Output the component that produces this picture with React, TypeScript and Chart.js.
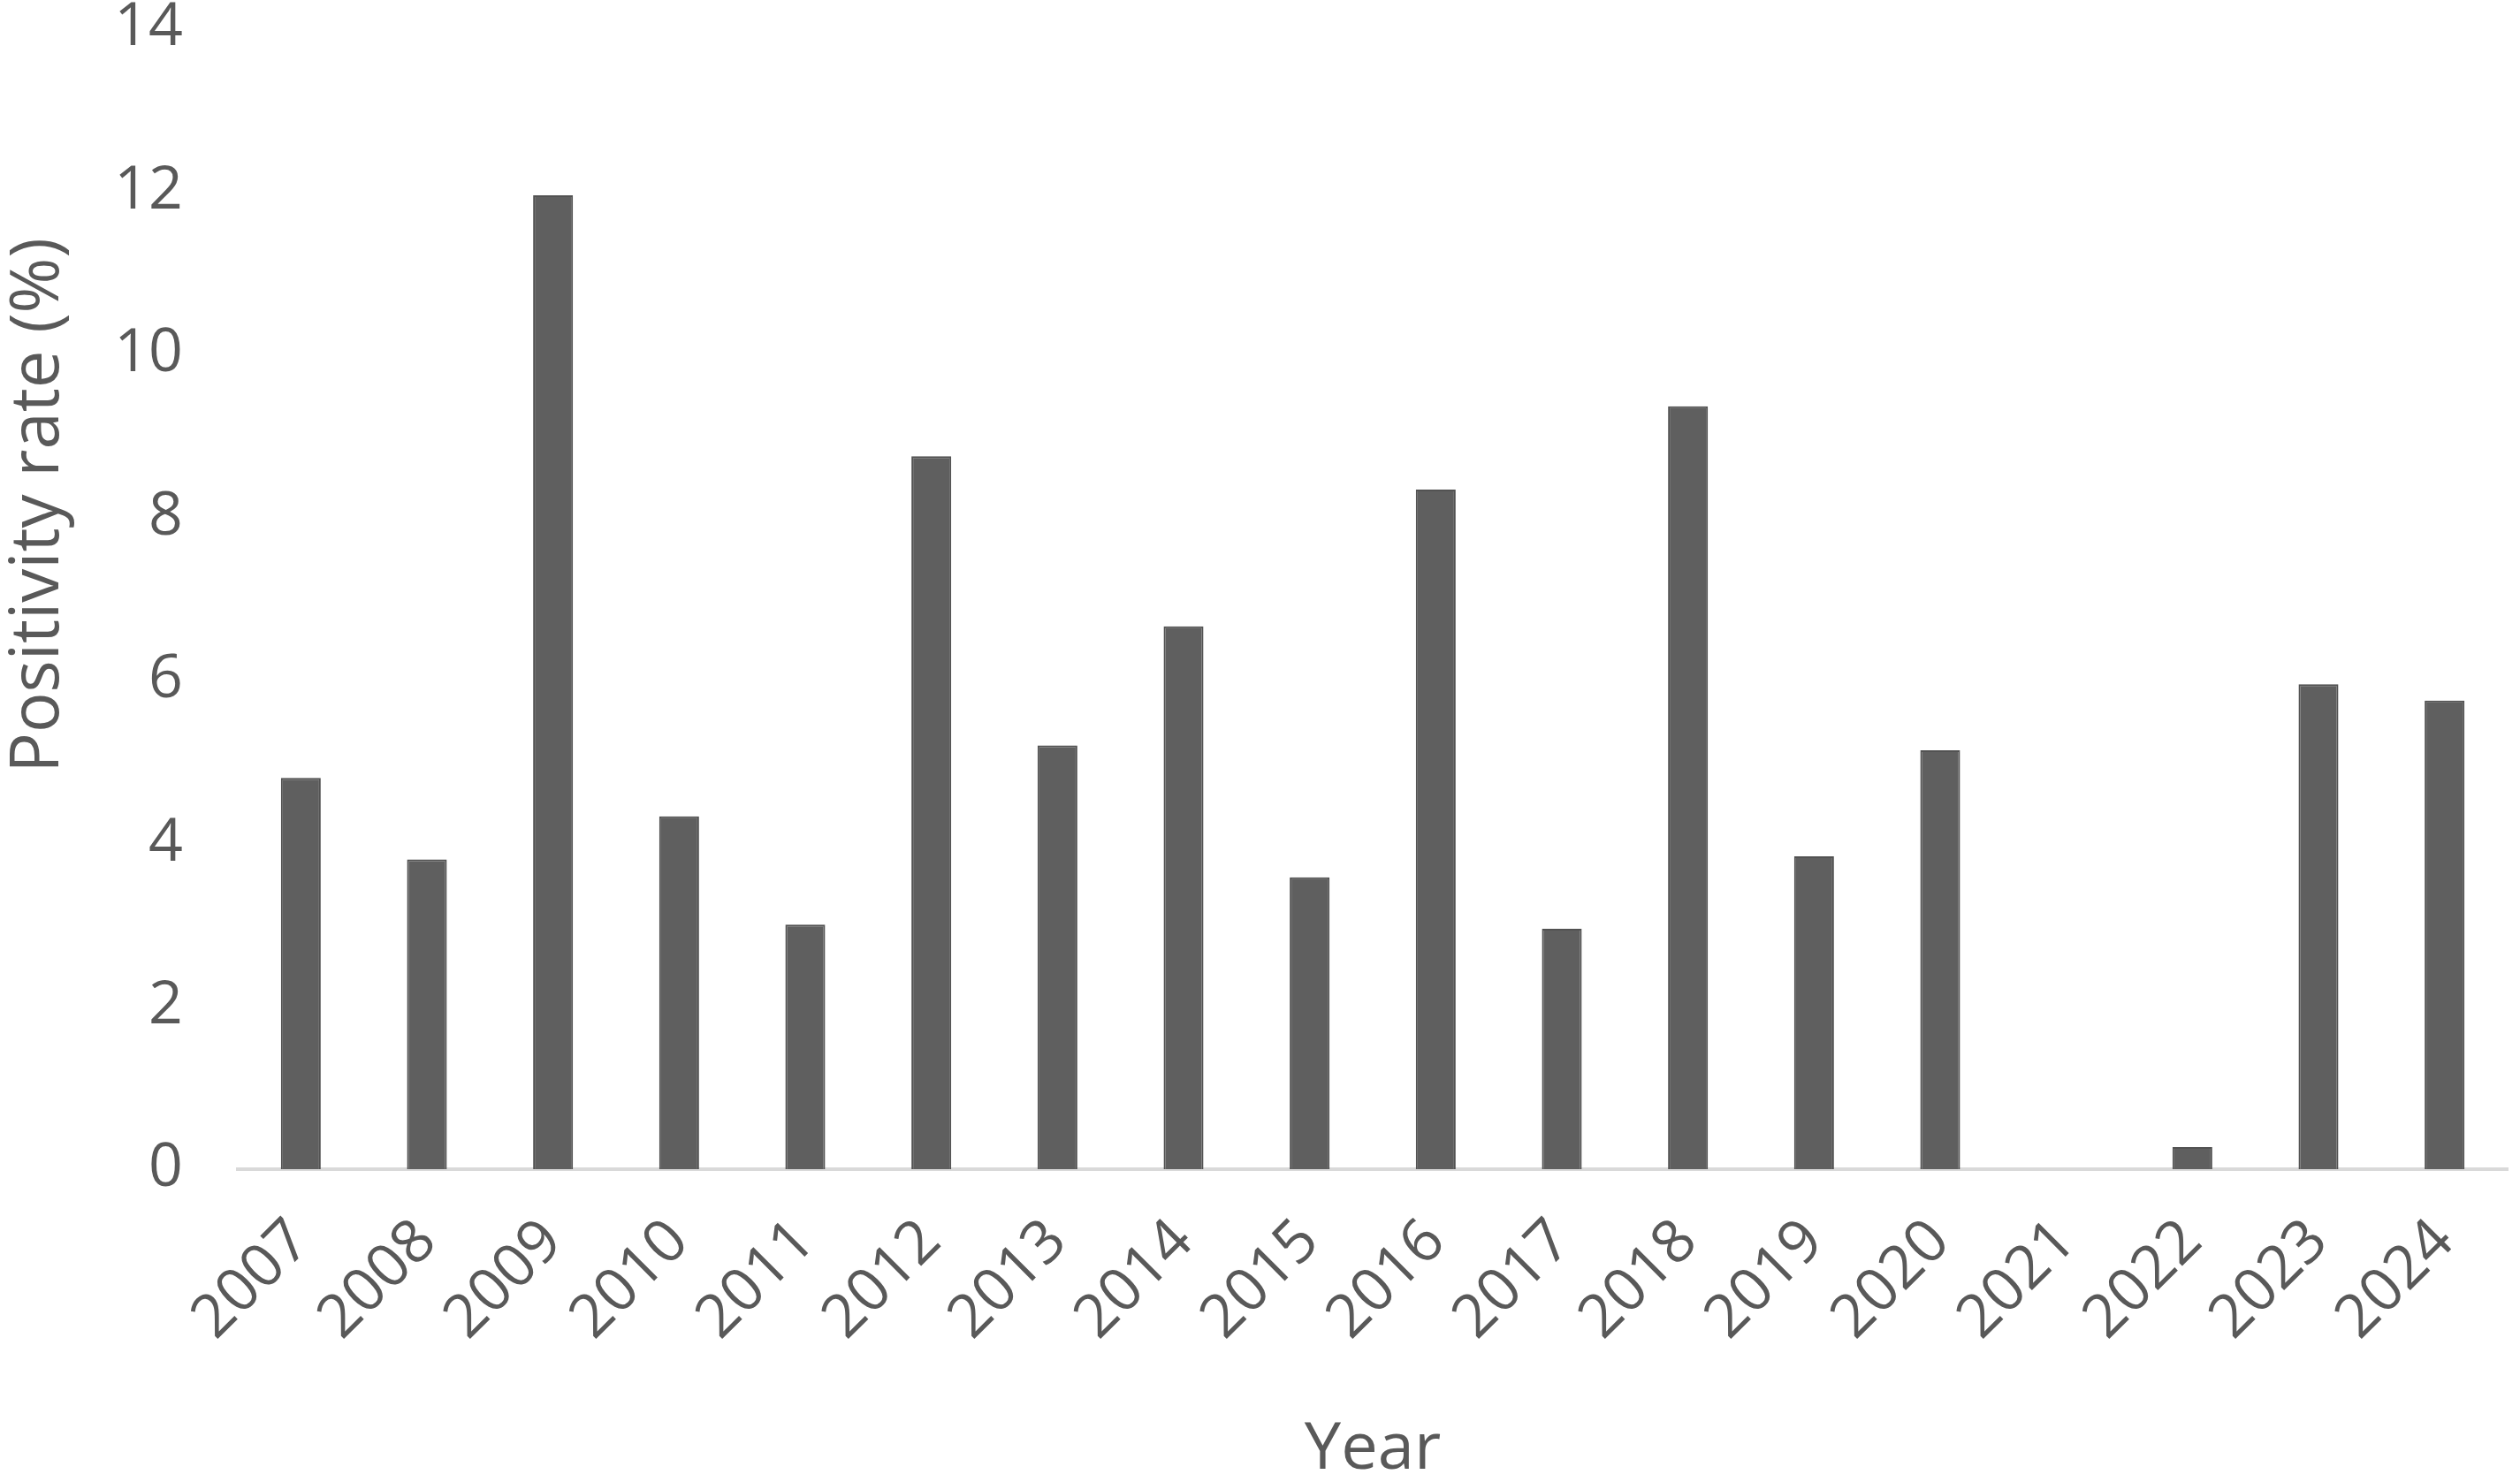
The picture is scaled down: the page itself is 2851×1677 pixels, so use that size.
import React, { useEffect, useRef } from "react";
import { Chart, registerables } from "chart.js";

Chart.register(...registerables);

const years = ["2007","2008","2009","2010","2011","2012","2013","2014","2015","2016","2017","2018","2019","2020","2021","2022","2023","2024"];
const positivityRate = [4.8, 3.8, 11.95, 4.33, 3.0, 8.75, 5.2, 6.66, 3.58, 8.34, 2.95, 9.36, 3.84, 5.14, 0, 0.27, 5.95, 5.75];
const yTicks = [0, 2, 4, 6, 8, 10, 12, 14];
const yTitle = "Positivity rate (%)";
const xTitle = "Year";

const W = 2851;
const H = 1677;
const TEXT = "#595959";
const FONT = "'Open Sans', 'Noto Sans', sans-serif";

const yTitlePlugin = {
  id: "yTitlePlugin",
  afterDraw(chart: any) {
    const ctx = chart.ctx;
    ctx.save();
    ctx.translate(44, 572);
    ctx.rotate(-Math.PI / 2);
    ctx.fillStyle = TEXT;
    ctx.font = `76px ${FONT}`;
    ctx.textAlign = "center";
    ctx.textBaseline = "middle";
    ctx.fillText(yTitle, 0, 0);
    ctx.restore();
  },
};

export default function App() {
  const ref = useRef<HTMLCanvasElement | null>(null);
  useEffect(() => {
    if (!ref.current) return;
    const chart = new Chart(ref.current, {
      type: "bar",
      data: {
        labels: years,
        datasets: [
          {
            data: positivityRate,
            backgroundColor: "#5f5f5f",
            borderColor: "#525252",
            borderWidth: 2,
            barPercentage: 0.316,
            categoryPercentage: 1,
          },
        ],
      },
      plugins: [yTitlePlugin],
      options: {
        animation: false,
        responsive: false,
        devicePixelRatio: 1,
        layout: { padding: { top: 32, right: 14, left: 0, bottom: 0 } },
        plugins: { legend: { display: false }, tooltip: { enabled: false } },
        scales: {
          x: {
            grid: { display: false, drawTicks: false },
            border: { display: true, color: "#d9d9d9", width: 4 },
            ticks: {
              color: TEXT,
              font: { family: FONT, size: 68 },
              minRotation: 45,
              maxRotation: 45,
              padding: 42,
              autoSkip: false,
            },
            title: {
              display: true,
              text: xTitle,
              color: TEXT,
              font: { family: FONT, size: 74 },
              padding: { top: 0, bottom: -8 },
            },
            afterFit(scale: any) {
              scale.height = H - 1323;
              scale.paddingLeft = 0;
              scale.paddingRight = 0;
            },
          },
          y: {
            min: 0,
            max: 14,
            grid: { display: false, drawTicks: false },
            border: { display: false },
            afterBuildTicks(scale: any) {
              scale.ticks = yTicks.map((v) => ({ value: v }));
            },
            ticks: {
              color: TEXT,
              font: { family: FONT, size: 68 },
              padding: 62,
            },
            afterFit(scale: any) {
              scale.width = 269;
              scale.paddingTop = 0;
              scale.paddingBottom = 0;
            },
          },
        },
      },
    });
    return () => chart.destroy();
  }, []);
  return (
    <div style={{ position: "fixed", left: 0, top: 0, width: W, height: H, background: "#fff" }}>
      <canvas ref={ref} width={W} height={H} style={{ width: W, height: H, display: "block" }} />
    </div>
  );
}
